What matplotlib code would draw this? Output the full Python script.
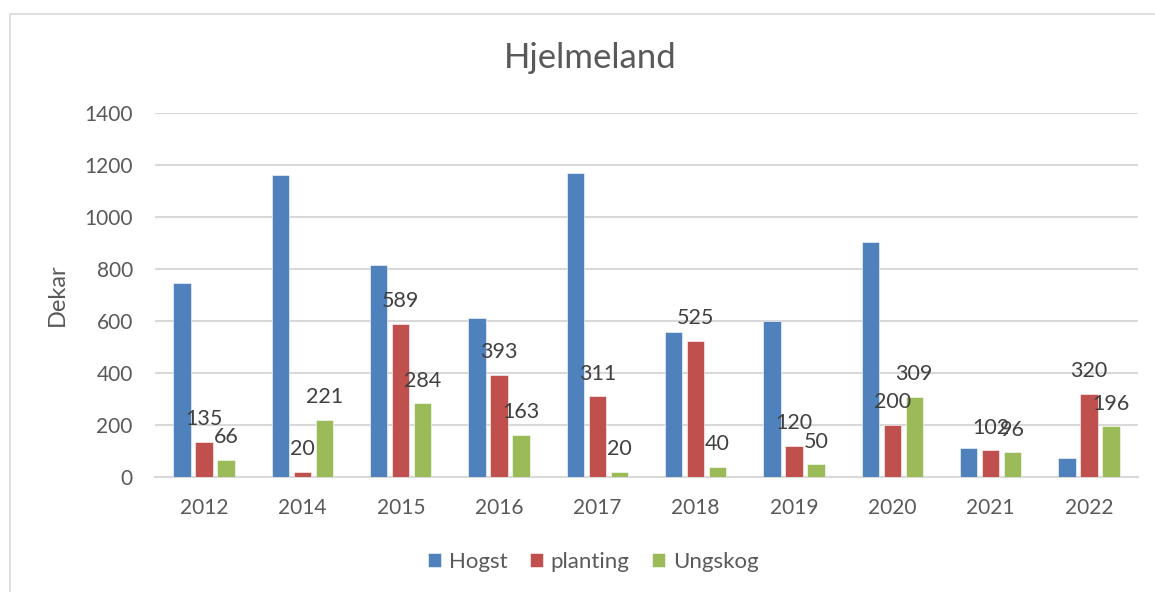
import matplotlib
matplotlib.use("Agg")
import matplotlib.pyplot as plt
import numpy as np
from matplotlib.patches import Rectangle

years = ["2012", "2014", "2015", "2016", "2017", "2018", "2019", "2020", "2021", "2022"]
hogst = [747, 1162, 815, 612, 1168, 556, 601, 905, 110, 72]
planting = [135, 20, 589, 393, 311, 525, 120, 200, 102, 320]
ungskog = [66, 221, 284, 163, 20, 40, 50, 309, 96, 196]
series_names = ["Hogst", "planting", "Ungskog"]
colors = ["#4F81BD", "#C0504D", "#9BBB59"]

plt.rcParams['font.family'] = ['Lato', 'DejaVu Sans']
txt = "#595959"

fig = plt.figure(figsize=(11.55, 5.92), dpi=100)
# chart frame
fig.patches.append(Rectangle((10/1155, -0.05), 1.2, 1 - 14/592 + 0.05,
                             transform=fig.transFigure, fill=False,
                             edgecolor="#D9D9D9", linewidth=1.2))

ax = fig.add_axes([155/1155, 1 - 477/592, (1138-155)/1155, (477-113)/592])
x = np.arange(len(years))
pitch = 0.224
width = 0.177
all_vals = [hogst, planting, ungskog]
for i, (vals, name, c) in enumerate(zip(all_vals, series_names, colors)):
    bars = ax.bar(x + (i - 1) * pitch, vals, width, color=c, label=name,
                  edgecolor="white", linewidth=0.4, zorder=3)
    if i > 0:
        for b, v in zip(bars, vals):
            ax.annotate(str(v), (b.get_x() + b.get_width() / 2, v),
                        xytext=(0, 9), textcoords="offset points",
                        ha="center", va="bottom", fontsize=15.5, color="#404040",
                        zorder=4)

ax.set_ylim(0, 1400)
ax.set_xlim(-0.5, len(years) - 0.5)
ax.set_yticks(range(0, 1401, 200))
ax.set_xticks(x)
ax.set_xticklabels(years)
ax.yaxis.grid(True, color="#D9D9D9", linewidth=1.5, zorder=0)
ax.set_axisbelow(True)
for s in ["top", "right", "left"]:
    ax.spines[s].set_visible(False)
ax.spines["bottom"].set_color("#D9D9D9")
ax.spines["bottom"].set_linewidth(1.5)
ax.tick_params(axis="both", length=0, labelsize=15, colors=txt)
ax.tick_params(axis="y", pad=16)
ax.tick_params(axis="x", pad=15)
ax.set_ylabel("Dekar", fontsize=17, color=txt, labelpad=12)

fig.text(590/1155, 1 - 58/592, "Hjelmeland", ha="center", va="center",
         fontsize=25, color=txt)

handles, labels = ax.get_legend_handles_labels()
fig.legend(handles, labels, loc="center", bbox_to_anchor=(593/1155, 1 - 562/592),
           ncol=3, frameon=False, fontsize=16, labelcolor=txt,
           handlelength=0.6, handleheight=0.6, handletextpad=0.35, columnspacing=1.0)

fig.savefig("out.png", dpi=100)
